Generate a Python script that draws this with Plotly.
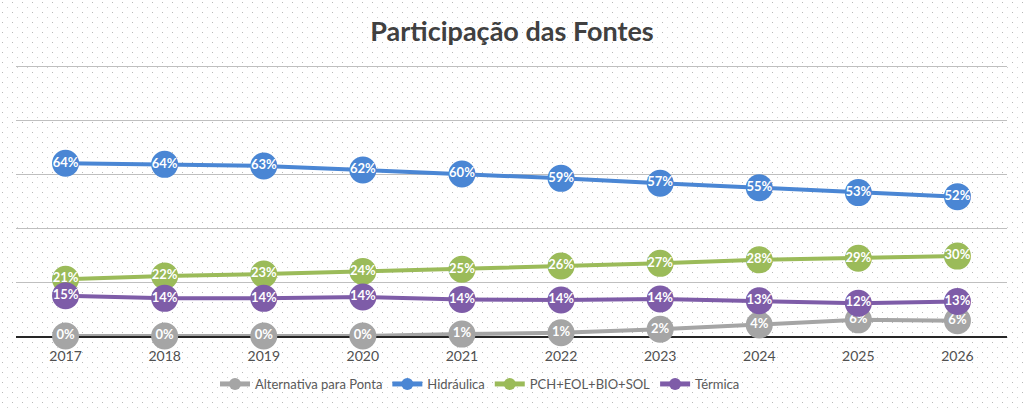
import base64
import plotly.graph_objects as go

years = ["2017", "2018", "2019", "2020", "2021", "2022", "2023", "2024", "2025", "2026"]
alternativa = [0.0, 0.0, 0.0, 0.0, 0.7, 1.2, 2.5, 4.1, 6.0, 5.7]
alternativa_lbl = ["0%", "0%", "0%", "0%", "1%", "1%", "2%", "4%", "6%", "6%"]
hidraulica = [64.2, 63.8, 63.2, 61.7, 60.2, 58.6, 56.8, 55.1, 53.3, 51.8]
hidraulica_lbl = ["64%", "64%", "63%", "62%", "60%", "59%", "57%", "55%", "53%", "52%"]
renovaveis = [21.1, 22.3, 23.0, 24.0, 24.8, 26.0, 27.0, 28.3, 28.9, 29.7]
renovaveis_lbl = ["21%", "22%", "23%", "24%", "25%", "26%", "27%", "28%", "29%", "30%"]
termica = [15.0, 14.0, 14.0, 14.5, 13.6, 13.4, 13.75, 13.1, 12.2, 12.8]
termica_lbl = ["15%", "14%", "14%", "14%", "14%", "14%", "14%", "13%", "12%", "13%"]

series = [
    ("Alternativa para Ponta", alternativa, alternativa_lbl, "#a5a5a5"),
    ("Hidráulica", hidraulica, hidraulica_lbl, "#4a86d4"),
    ("PCH+EOL+BIO+SOL", renovaveis, renovaveis_lbl, "#9bbb59"),
    ("Térmica", termica, termica_lbl, "#7e5ca8"),
]

W, H = 1024, 409
L, R, T, B = 16, 17, 64, 73
pw, ph = W - L - R, H - T - B

svg = (
    f"<svg xmlns='http://www.w3.org/2000/svg' width='{W}' height='{H}'>"
    "<defs><pattern id='p' width='10' height='10' patternUnits='userSpaceOnUse'>"
    "<rect x='2' y='2' width='1' height='1' fill='#b8b8b8'/>"
    "<rect x='7' y='7' width='1' height='1' fill='#d0d0d0'/>"
    "</pattern></defs>"
    f"<rect width='{W}' height='{H}' fill='white'/>"
    f"<rect width='{W}' height='{H}' fill='url(#p)'/></svg>"
)
bg_uri = "data:image/svg+xml;base64," + base64.b64encode(svg.encode()).decode()

fig = go.Figure()
for name, vals, lbls, color in series:
    fig.add_trace(go.Scatter(
        x=years, y=vals, name=name, mode="lines+markers+text",
        text=lbls, textposition="middle center",
        textfont=dict(family="Lato", size=13, color="white", weight="bold"),
        line=dict(color=color, width=4),
        marker=dict(color=color, size=27, line=dict(width=0)),
        cliponaxis=False,
    ))

fig.update_layout(
    width=W, height=H,
    margin=dict(l=L, r=R, t=T, b=B, autoexpand=False),
    paper_bgcolor="white",
    plot_bgcolor="rgba(0,0,0,0)",
    title=dict(text="<b>Participação das Fontes</b>", x=0.5, xanchor="center",
               y=1 - 32 / H, yanchor="middle",
               font=dict(family="Lato", size=27, color="#404040")),
    showlegend=True,
    legend=dict(orientation="h", x=480 / W, xanchor="center", xref="container",
                y=1 - 384 / H, yanchor="middle", yref="container",
                font=dict(family="Lato", size=13, color="#595959"),
                bgcolor="rgba(0,0,0,0)", itemsizing="constant"),
    xaxis=dict(type="category", range=[-0.5, 9.5], showgrid=False,
               showline=True, linecolor="#262626", linewidth=1.5,
               layer="below traces", ticks="", ticklabelstandoff=6,
               automargin=False,
               tickfont=dict(family="Lato", size=14, color="#505050")),
    yaxis=dict(range=[0, 101.1], tickvals=[0, 20, 40, 60, 80, 100],
               showgrid=True, gridcolor="#bfbfbf", automargin=False,
               gridwidth=1, zeroline=False, showticklabels=False,
               layer="below traces"),
    images=[dict(source=bg_uri, xref="paper", yref="paper",
                 x=-L / pw, y=1 + T / ph, sizex=W / pw, sizey=H / ph,
                 xanchor="left", yanchor="top", sizing="stretch", layer="below")],
)

fig.write_html("out.html")
